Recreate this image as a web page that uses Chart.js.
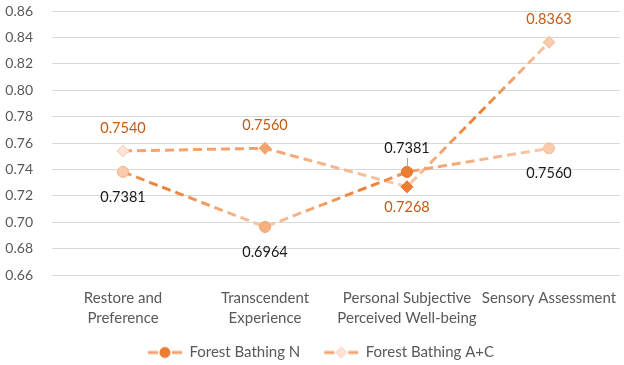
<!DOCTYPE html>
<html>
<head>
<meta charset="utf-8">
<script src="https://cdn.jsdelivr.net/npm/chart.js@4.4.1/dist/chart.umd.min.js"></script>
<style>
html,body{margin:0;padding:0;background:#fff;}
#wrap{width:624px;height:365px;position:relative;}
</style>
</head>
<body>
<div id="wrap"><canvas id="c" width="624" height="365"></canvas></div>
<script>
const categories = [["Restore and","Preference"],["Transcendent","Experience"],["Personal Subjective","Perceived Well-being"],["Sensory Assessment"]];
const seriesNames = ["Forest Bathing N","Forest Bathing A+C"];
const valuesN = [0.7381, 0.6964, 0.7381, 0.7560];
const valuesAC = [0.7540, 0.7560, 0.7268, 0.8363];
const yTicks = [0.66,0.68,0.70,0.72,0.74,0.76,0.78,0.80,0.82,0.84,0.86];

const LIGHT = '#F8CBAD', MID = '#F4B183', DARK = '#ED7D31';
const FONT = 'Lato, "Open Sans", sans-serif';

function vGradient(values){
  return (ctx) => {
    const chart = ctx.chart;
    const ca = chart.chartArea;
    if (!ca) return MID;
    const ys = chart.scales.y;
    const top = ys.getPixelForValue(Math.max(...values));
    const bot = ys.getPixelForValue(Math.min(...values));
    const g = chart.ctx.createLinearGradient(0, top, 0, bot);
    g.addColorStop(0, LIGHT);
    g.addColorStop(0.5, DARK);
    g.addColorStop(1, LIGHT);
    return g;
  };
}

// legend icon: blank left margin (item spacing), then line - marker - line
function legendImg(shape, fill, stroke){
  const blank = 6;
  const c = document.createElement('canvas');
  c.width = 34 + blank; c.height = 14;
  const x = c.getContext('2d');
  x.translate(blank, 0);
  x.strokeStyle = '#F4A36C'; x.lineWidth = 3;
  x.beginPath(); x.moveTo(0,7); x.lineTo(10,7); x.moveTo(24,7); x.lineTo(34,7); x.stroke();
  x.fillStyle = fill; x.strokeStyle = stroke; x.lineWidth = 1;
  x.beginPath();
  if (shape === 'circle') { x.arc(17,7,5,0,Math.PI*2); }
  else { x.moveTo(17,1.5); x.lineTo(22.5,7); x.lineTo(17,12.5); x.lineTo(11.5,7); x.closePath(); }
  x.fill(); x.stroke();
  return c;
}
const legendIcons = [legendImg('circle', DARK, '#E8702A'), legendImg('diamond', '#FBE5D6', LIGHT)];

// label placement: 1 = above, -1 = below
const labelPosN = [-1, -1, 1, -1];
const labelPosAC = [1, 1, -1, 1];

const dataLabels = {
  id: 'dataLabels',
  afterLayout(chart){
    const l = chart.legend;
    if (l) { l.left += 8; l.right += 8; }
  },
  afterDatasetsDraw(chart){
    const ctx = chart.ctx;
    ctx.save();
    ctx.font = '14.5px ' + FONT;
    ctx.textAlign = 'center';
    ctx.textBaseline = 'middle';
    chart.data.datasets.forEach((ds, di) => {
      const meta = chart.getDatasetMeta(di);
      const pos = di === 0 ? labelPosN : labelPosAC;
      ctx.fillStyle = di === 0 ? '#1A1A1A' : '#C55A11';
      meta.data.forEach((pt, i) => {
        const v = ds.data[i];
        let off = pos[i] > 0 ? -23 : 25;
        if (di === 1 && pos[i] < 0) off = 21;
        if (di === 0 && pos[i] > 0) {
          off = -24;
          ctx.strokeStyle = '#A6A6A6'; ctx.lineWidth = 1;
          ctx.beginPath(); ctx.moveTo(pt.x + 0.5, pt.y - 14); ctx.lineTo(pt.x + 0.5, pt.y - 5); ctx.stroke();
        }
        ctx.fillText(v.toFixed(4), pt.x, pt.y + off);
      });
    });
    ctx.restore();
  }
};

new Chart(document.getElementById('c'), {
  type: 'line',
  data: {
    labels: categories,
    datasets: [
      {
        label: seriesNames[0],
        data: valuesN,
        borderColor: vGradient(valuesN),
        borderWidth: 3,
        borderDash: [9,5],
        pointStyle: 'circle',
        pointRadius: 5.5,
        pointBorderWidth: 1,
        pointBackgroundColor: [LIGHT, MID, DARK, LIGHT],
        pointBorderColor: ['#F4B183', '#F0A36A', '#E8702A', '#F4BF9A'],
        tension: 0,
        fill: false
      },
      {
        label: seriesNames[1],
        data: valuesAC,
        borderColor: vGradient(valuesAC),
        borderWidth: 3,
        borderDash: [9,5],
        pointStyle: 'rectRot',
        pointRadius: 6,
        pointBorderWidth: 1,
        pointBackgroundColor: ['#FBE5D6', '#F2A46E', DARK, LIGHT],
        pointBorderColor: [LIGHT, '#F0A36A', '#E8702A', '#F4BF9A'],
        tension: 0,
        fill: false
      }
    ]
  },
  options: {
    responsive: false,
    animation: false,
    devicePixelRatio: 1,
    layout: { autoPadding: false, padding: { top: 11, right: 4, left: 0, bottom: 0 } },
    plugins: {
      tooltip: { enabled: false },
      legend: {
        position: 'bottom',
        maxHeight: 38,
        labels: {
          usePointStyle: true,
          pointStyleWidth: 40,
          padding: 18,
          color: '#595959',
          font: { family: FONT, size: 15 },
          generateLabels(chart){
            return chart.data.datasets.map((ds, i) => ({
              text: ds.label,
              pointStyle: legendIcons[i],
              fillStyle: 'transparent',
              strokeStyle: 'transparent',
              lineWidth: 0,
              fontColor: '#595959',
              datasetIndex: i,
              hidden: false
            }));
          }
        }
      }
    },
    scales: {
      x: {
        offset: true,
        afterFit(scale){ scale.paddingLeft = 0; scale.paddingRight = 0; scale.height = 52; },
        grid: { display: false, drawTicks: false },
        border: { display: false },
        ticks: { color: '#595959', font: { family: FONT, size: 15, lineHeight: 1.33 }, padding: 13, maxRotation: 0, autoSkip: false }
      },
      y: {
        min: 0.66, max: 0.86,
        afterBuildTicks(scale){ scale.ticks = yTicks.map(v => ({ value: v })); },
        afterFit(scale){ scale.width = 52; scale.paddingTop = 0; scale.paddingBottom = 0; },
        grid: { color: '#D9D9D9', lineWidth: 1, drawTicks: false },
        border: { display: false },
        ticks: { color: '#595959', font: { family: FONT, size: 14 }, padding: 19, callback: v => v.toFixed(2) }
      }
    }
  },
  plugins: [dataLabels]
});
</script>
</body>
</html>
